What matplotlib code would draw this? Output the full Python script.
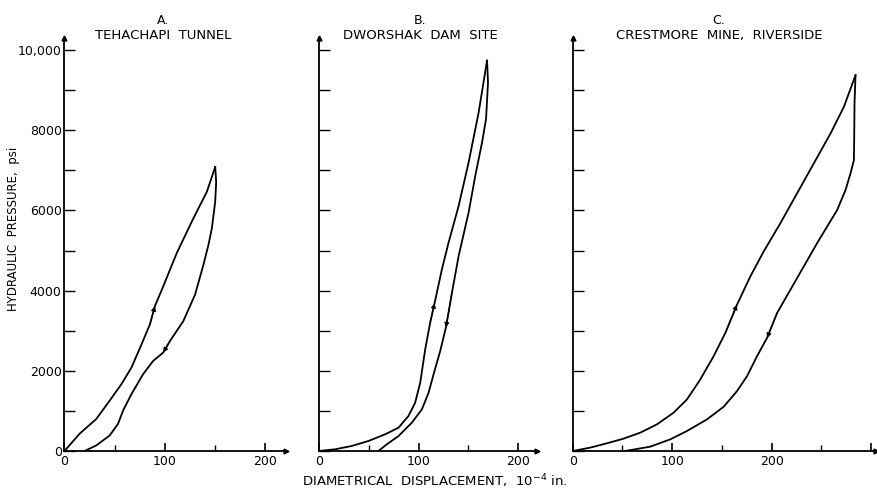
import matplotlib
matplotlib.use("Agg")
import matplotlib.pyplot as plt
from matplotlib.patches import FancyArrowPatch
import numpy as np

plt.rcParams['font.family'] = ['DejaVu Sans']

# ---------------- data (displacement in 1e-4 in., pressure in psi) ----------------
titles = ["A.", "B.", "C."]
sites = ["TEHACHAPI  TUNNEL", "DWORSHAK  DAM  SITE", "CRESTMORE  MINE,  RIVERSIDE"]

A_load_x = [0, 15, 31.7, 45, 56.7, 66.7, 76.7, 85, 90, 98.3, 111.7, 128.3, 141.7, 150]
A_load_y = [0, 430, 800, 1256, 1669, 2083, 2661, 3157, 3612, 4107, 4934, 5802, 6463, 7083]
A_unload_x = [150, 151, 150, 146.7, 143.3, 138.3, 130, 118.3, 105, 98.3, 88.3, 78.3, 66.7, 58.3, 53.3, 45, 31.7, 20]
A_unload_y = [7083, 6711, 6215, 5554, 5140, 4645, 3901, 3240, 2744, 2455, 2248, 1917, 1421, 1008, 678, 388, 140, 0]

B_load_x = [0, 16, 32.9, 49.7, 66.4, 79.9, 89.9, 96.6, 101.7, 106.7, 111.7, 116.1, 123.5, 130.2, 140.3, 150.3, 160.4, 168.8]
B_load_y = [0, 42, 125, 250, 416, 582, 874, 1206, 1705, 2537, 3203, 3686, 4534, 5200, 6115, 7196, 8444, 9734]
B_unload_x = [168.8, 169.8, 167.8, 163.8, 157, 150.3, 140.3, 133.6, 127.5, 121.8, 115.1, 110.1, 103.4, 93.3, 79.9, 68.1, 59.7]
B_unload_y = [9734, 9193, 8278, 7696, 6864, 5948, 4867, 3952, 3078, 2496, 1913, 1456, 1040, 707, 374, 166, 0]

C_load_x = [0, 17.4, 34.2, 51, 67.8, 84.6, 101.3, 114.8, 128.2, 141.6, 153.4, 165.1, 178.5, 191.9, 208.7, 225.5, 242.3, 259.1, 272.5, 284.2]
C_load_y = [0, 83, 191, 307, 456, 663, 954, 1285, 1783, 2363, 2944, 3648, 4353, 4975, 5680, 6426, 7172, 7919, 8582, 9370]
C_unload_x = [284.2, 283.2, 282.9, 282.6, 279.2, 274.2, 265.8, 255.7, 245.6, 232.2, 218.8, 205.4, 195.3, 185.2, 175.2, 165.1, 151.7, 134.9, 114.8, 98, 77.9, 52.7]
C_unload_y = [9370, 8665, 7836, 7255, 6924, 6509, 6012, 5597, 5182, 4602, 4022, 3441, 2819, 2363, 1866, 1493, 1103, 788, 498, 290, 108, 0]

# index of the point carrying the direction arrowhead on each branch
A_arrows = (8, 9)
B_arrows = (11, 8)
C_arrows = (11, 12)

x_major = [0, 100, 200, 300]
x_major_labels = ["0", "100", "200", ""]
x_minor = [50, 150, 250]
y_major = [0, 2000, 4000, 6000, 8000, 10000]
y_major_labels = ["0", "2000", "4000", "6000", "8000", "10,000"]
y_minor = [1000, 3000, 5000, 7000, 9000]

panels = [
    dict(load=(A_load_x, A_load_y), unload=(A_unload_x, A_unload_y), arrows=A_arrows,
         rect=[64.5, 451, 221], xmax=220, tx=163),
    dict(load=(B_load_x, B_load_y), unload=(B_unload_x, B_unload_y), arrows=B_arrows,
         rect=[319, 451, 218], xmax=219, tx=420),
    dict(load=(C_load_x, C_load_y), unload=(C_unload_x, C_unload_y), arrows=C_arrows,
         rect=[572.7, 451, 303.5], xmax=305, tx=719),
]

W, H = 878, 490
fig = plt.figure(figsize=(W / 100, H / 100), dpi=100)
YMAX = 10300
hpx = 401 * YMAX / 10000.0
lw = 1.3

for i, p in enumerate(panels):
    left, base, wpx = p["rect"]
    ax = fig.add_axes([left / W, (H - base) / H, wpx / W, hpx / H])
    ax.set_xlim(0, p["xmax"])
    ax.set_ylim(0, YMAX)
    for s in ["top", "right"]:
        ax.spines[s].set_visible(False)
    for s in ["left", "bottom"]:
        ax.spines[s].set_linewidth(1.3)
    ax.patch.set_alpha(0)

    lx, ly = p["load"]
    ux, uy = p["unload"]
    ax.plot(lx, ly, color="black", lw=lw, solid_joinstyle="round")
    ax.plot(ux, uy, color="black", lw=lw, solid_joinstyle="round")
    # direction arrowheads
    for (xs, ys), k in ((p["load"], p["arrows"][0]), (p["unload"], p["arrows"][1])):
        a = FancyArrowPatch((xs[k - 1], ys[k - 1]), (xs[k], ys[k]),
                            arrowstyle="-|>", mutation_scale=7, color="black",
                            lw=0.8, shrinkA=0, shrinkB=0)
        ax.add_patch(a)

    # ticks
    xm = [v for v in x_major if v <= p["xmax"]]
    ax.set_xticks(xm)
    ax.set_xticklabels(x_major_labels[:len(xm)], fontsize=9)
    ax.set_xticks([v for v in x_minor if v <= p["xmax"]], minor=True)
    ax.tick_params(axis="x", which="major", direction="in", length=6, width=1.2, pad=3)
    ax.tick_params(axis="x", which="minor", direction="in", length=4, width=1.0)
    ax.set_yticks(y_major)
    ax.set_yticks(y_minor, minor=True)
    if i == 0:
        ax.set_yticklabels(y_major_labels, fontsize=9)
    else:
        ax.set_yticklabels([])
    ax.tick_params(axis="y", which="both", direction="in", length=8, width=1.0, pad=2)

    # axis arrowheads
    ax.plot(0, 1, marker="^", color="black", markersize=3.5,
            transform=ax.get_xaxis_transform(), clip_on=False)
    ax.plot(1, 0, marker=">", color="black", markersize=3.5,
            transform=ax.get_yaxis_transform(), clip_on=False)

    # titles
    fig.text(p["tx"] / W, 1 - 21 / H, titles[i], ha="center", va="center", fontsize=9)
    fig.text(p["tx"] / W, 1 - 35.5 / H, sites[i], ha="center", va="center", fontsize=9.5)

fig.text(435 / W, 1 - 481 / H, "DIAMETRICAL  DISPLACEMENT,  10$^{-4}$ in.",
         ha="center", va="center", fontsize=9.5)
fig.text(14 / W, 1 - 229 / H, "HYDRAULIC  PRESSURE,  psi", rotation=90,
         ha="center", va="center", fontsize=8.5)

fig.savefig("out.png", dpi=100)
